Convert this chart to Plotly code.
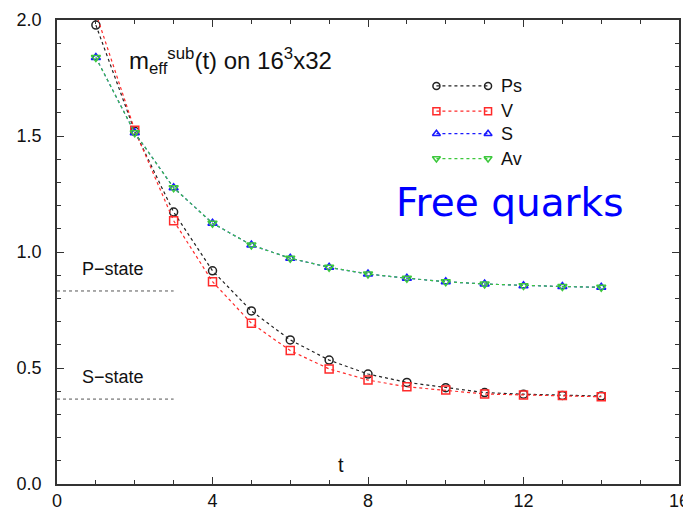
import plotly.graph_objects as go

# ---- data ----
t = [1, 2, 3, 4, 5, 6, 7, 8, 9, 10, 11, 12, 13, 14]
ps = [1.978, 1.520, 1.172, 0.919, 0.746, 0.621, 0.534, 0.474, 0.438, 0.415, 0.394, 0.387, 0.382, 0.379]
v = [2.03, 1.525, 1.135, 0.872, 0.693, 0.575, 0.496, 0.448, 0.419, 0.405, 0.388, 0.384, 0.381, 0.376]
s = [1.838, 1.514, 1.277, 1.124, 1.030, 0.973, 0.934, 0.905, 0.887, 0.872, 0.862, 0.855, 0.851, 0.848]
av = [1.838, 1.514, 1.277, 1.124, 1.030, 0.973, 0.934, 0.905, 0.887, 0.872, 0.862, 0.855, 0.851, 0.848]

series_names = ["Ps", "V", "S", "Av"]
series_values = [ps, v, s, av]
series_colors = ["#222222", "#ff2a2a", "#1a1aff", "#3cc83c"]
series_symbols = ["circle-open", "square-open", "triangle-up-open", "triangle-down-open"]

state_labels = ["P\u2212state", "S\u2212state"]
state_levels = [0.832, 0.366]
state_t_range = [0, 3]

x_ticks = [0, 4, 8, 12, 16]
y_ticks = [0.0, 0.5, 1.0, 1.5, 2.0]

FONT = "Liberation Sans, Arial, sans-serif"

fig = go.Figure()

# reference levels
for lab, lev in zip(state_labels, state_levels):
    fig.add_trace(go.Scatter(
        x=state_t_range, y=[lev, lev], mode="lines",
        line=dict(color="#555555", width=1, dash="dot"),
        showlegend=False, hoverinfo="skip"))
    fig.add_annotation(x=sum(state_t_range) / 2 - 0.05, y=lev, yshift=22,
                       text=lab, showarrow=False,
                       font=dict(family=FONT, size=18, color="#111"))

# data series
for name, vals, col, sym in zip(series_names, series_values, series_colors, series_symbols):
    fig.add_trace(go.Scatter(
        x=t, y=vals, mode="lines+markers", name=name,
        line=dict(color=col, width=1.2, dash="dot"),
        marker=dict(symbol=sym, size=8, color=col, line=dict(width=1.5, color=col)),
        showlegend=False))

# custom legend drawn on an overlay axis (0..1 paper-like)
leg_x0, leg_x1, leg_lab = 0.610, 0.693, 0.711
leg_rows = [0.858, 0.8035, 0.755, 0.7014]
for name, col, sym, yy in zip(series_names, series_colors, series_symbols, leg_rows):
    fig.add_trace(go.Scatter(
        x=[leg_x0, leg_x1], y=[yy, yy], mode="lines+markers",
        xaxis="x2", yaxis="y2",
        line=dict(color=col, width=1.2, dash="dot"),
        marker=dict(symbol=sym, size=7, color=col, line=dict(width=1.5, color=col)),
        showlegend=False, hoverinfo="skip"))
    fig.add_annotation(xref="paper", yref="paper", x=leg_lab, y=yy,
                       xanchor="left", yanchor="middle", text=name, showarrow=False,
                       font=dict(family=FONT, size=18, color="#111"))

# texts
fig.add_annotation(xref="paper", yref="paper", x=0.113, y=0.912, xanchor="left", yanchor="middle",
                   text="m<sub>eff</sub><sup>sub</sup>(t) on 16<sup>3</sup>x32", showarrow=False,
                   font=dict(family=FONT, size=24, color="#111"))
fig.add_annotation(xref="paper", yref="paper", x=0.7275, y=0.606, xanchor="center", yanchor="middle",
                   text="Free quarks", showarrow=False,
                   font=dict(family="DejaVu Sans", size=39, color="#0000ff"))
fig.add_annotation(x=7.3, y=0.08, text="t", showarrow=False,
                   font=dict(family=FONT, size=20, color="#111"))

axis_common = dict(
    showgrid=False, zeroline=False, showline=True, linecolor="#333", linewidth=1.6,
    mirror="ticks", ticks="inside", ticklen=7, tickwidth=1.3, tickcolor="#333",
    tickfont=dict(family=FONT, size=18, color="#111"), automargin=False,
)

# page body has an 8px default margin: size the figure so the plot area lands
# at the same window pixels as the reference (57..679 x 20..484)
fig.update_layout(
    width=683, height=504,
    margin=dict(l=49, r=12, t=12, b=28),
    paper_bgcolor="white", plot_bgcolor="white",
    xaxis=dict(range=[0, 16], tickvals=x_ticks, domain=[0, 1], ticklabelstandoff=0,
               minor=dict(dtick=1, ticks="inside", ticklen=4, tickcolor="#333", tickwidth=1),
               **axis_common),
    yaxis=dict(range=[0, 2], tickvals=y_ticks, tickformat=".1f", domain=[0, 1], ticklabelstandoff=10,
               minor=dict(dtick=0.1, ticks="inside", ticklen=4, tickcolor="#333", tickwidth=1),
               **axis_common),
    xaxis2=dict(range=[0, 1], overlaying="x", visible=False, domain=[0, 1]),
    yaxis2=dict(range=[0, 1], overlaying="y", visible=False, domain=[0, 1]),
    showlegend=False,
)

fig.write_html("out.html")
